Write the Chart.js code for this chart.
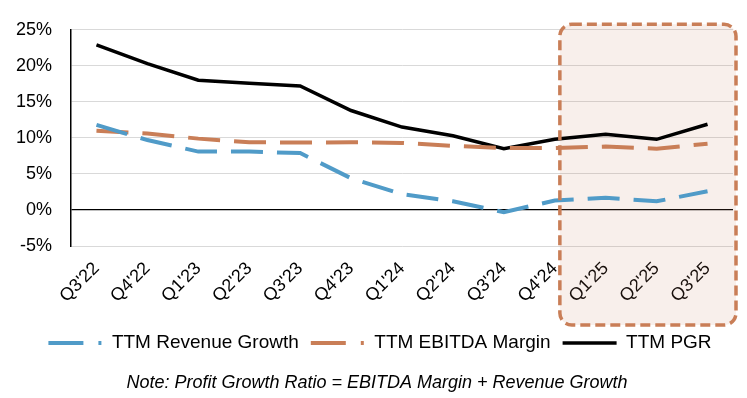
<!DOCTYPE html>
<html>
<head>
<meta charset="utf-8">
<script src="https://cdn.jsdelivr.net/npm/chart.js@4.4.0/dist/chart.umd.min.js"></script>
<style>
  html, body { margin: 0; padding: 0; background: #fff; }
  #wrap { width: 747px; height: 398px; }
</style>
</head>
<body>
<div id="wrap"><canvas id="pgrChart" width="747" height="398"></canvas></div>
<script>
var quarters = ["Q3'22", "Q4'22", "Q1'23", "Q2'23", "Q3'23", "Q4'23", "Q1'24", "Q2'24", "Q3'24", "Q4'24", "Q1'25", "Q2'25", "Q3'25"];
var revenueGrowth = [11.8, 9.7, 8.1, 8.1, 7.9, 4.4, 2.2, 1.2, -0.3, 1.3, 1.7, 1.2, 2.6];
var ebitdaMargin = [11.0, 10.6, 9.9, 9.4, 9.35, 9.4, 9.3, 8.9, 8.6, 8.6, 8.8, 8.5, 9.2];
var pgr = [22.9, 20.3, 18.0, 17.6, 17.2, 13.8, 11.5, 10.3, 8.5, 9.8, 10.5, 9.8, 11.9];
var yTicks = [-5, 0, 5, 10, 15, 20, 25];
var highlightFrom = 9; // box starts right after Q4'24

var BLUE = '#509bc8';
var ORANGE = '#c97e57';
var FONT = "'Liberation Sans', Arial, sans-serif";

// shaded, dashed box around the latest quarters
var highlightBox = {
  id: 'highlightBox',
  path: function (chart) {
    var x = chart.scales.x, y = chart.scales.y, a = chart.chartArea;
    var step = x.getPixelForValue(1) - x.getPixelForValue(0);
    var left = x.getPixelForValue(highlightFrom) + step * 0.1;
    var right = a.right + 3;
    var top = y.getPixelForValue(25) - 5.5;
    var bottom = a.bottom + 79;
    chart.ctx.beginPath();
    chart.ctx.roundRect(left, top, right - left, bottom - top, 12);
  },
  afterLayout: function (chart) {
    // legend and note sit a little right of the canvas centre
    chart.legend.left += 6.5;
    chart.legend.right += 6.5;
    chart.titleBlock.left += 3.5;
    chart.titleBlock.right += 3.5;
  },
  beforeDatasetsDraw: function (chart) {
    var ctx = chart.ctx;
    ctx.save();
    this.path(chart);
    ctx.fillStyle = 'rgba(201,126,87,0.12)';
    ctx.fill();
    ctx.restore();
  },
  afterDatasetsDraw: function (chart) {
    var ctx = chart.ctx;
    ctx.save();
    this.path(chart);
    ctx.setLineDash([10, 5]);
    ctx.lineWidth = 3.5;
    ctx.strokeStyle = ORANGE;
    ctx.stroke();
    ctx.restore();
  }
};

var ctx = document.getElementById('pgrChart').getContext('2d');
new Chart(ctx, {
  type: 'line',
  data: {
    labels: quarters,
    datasets: [
      {
        label: 'TTM Revenue Growth',
        data: revenueGrowth,
        borderColor: BLUE,
        borderWidth: 4,
        borderDash: [32, 14],
        pointRadius: 0,
        tension: 0
      },
      {
        label: 'TTM EBITDA Margin',
        data: ebitdaMargin,
        borderColor: ORANGE,
        borderWidth: 4,
        borderDash: [32, 14],
        pointRadius: 0,
        tension: 0
      },
      {
        label: 'TTM PGR',
        data: pgr,
        borderColor: '#000000',
        borderWidth: 3.5,
        pointRadius: 0,
        tension: 0
      }
    ]
  },
  options: {
    responsive: false,
    animation: false,
    events: [],
    layout: { padding: { left: 14, right: 14, top: 12, bottom: 0 } },
    scales: {
      x: {
        offset: true,
        grid: { display: false },
        border: { display: false },
        ticks: {
          autoSkip: false,
          minRotation: 45,
          maxRotation: 45,
          color: '#000',
          font: { family: FONT, size: 18 },
          padding: 4
        },
        afterFit: function (scale) { scale.height = 75.4; }
      },
      y: {
        min: -5,
        max: 25,
        afterBuildTicks: function (scale) {
          scale.ticks = yTicks.map(function (v) { return { value: v }; });
        },
        afterFit: function (scale) { scale.width = 57; },
        grid: {
          drawTicks: false,
          color: function (c) { return c.tick && c.tick.value === 0 ? '#000000' : '#d9d9d9'; },
          lineWidth: function (c) { return c.tick && c.tick.value === 0 ? 1.2 : 1; }
        },
        border: { display: true, color: '#000', width: 1.5 },
        ticks: {
          color: '#000',
          padding: 19,
          font: { family: FONT, size: 18 },
          callback: function (v) { return v + '%'; }
        }
      }
    },
    plugins: {
      legend: {
        position: 'bottom',
        labels: {
          usePointStyle: true,
          pointStyle: 'line',
          pointStyleWidth: 54,
          boxHeight: 19,
          padding: 12,
          color: '#000',
          font: { family: FONT, size: 19 },
          generateLabels: function (chart) {
            var dashes = [[35, 15, 3, 100], [35, 15, 3, 100], []];
            return chart.data.datasets.map(function (d, i) {
              return {
                text: d.label,
                strokeStyle: d.borderColor,
                fillStyle: d.borderColor,
                lineWidth: d.borderWidth,
                lineDash: dashes[i],
                pointStyle: 'line',
                datasetIndex: i,
                hidden: false
              };
            });
          }
        }
      },
      title: {
        display: true,
        position: 'bottom',
        text: 'Note: Profit Growth Ratio = EBITDA Margin + Revenue Growth',
        color: '#000',
        font: { family: FONT, size: 18, style: 'italic', weight: 'normal' },
        padding: { top: 10, bottom: 4 }
      },
      tooltip: { enabled: false }
    }
  },
  plugins: [highlightBox]
});
</script>
</body>
</html>
